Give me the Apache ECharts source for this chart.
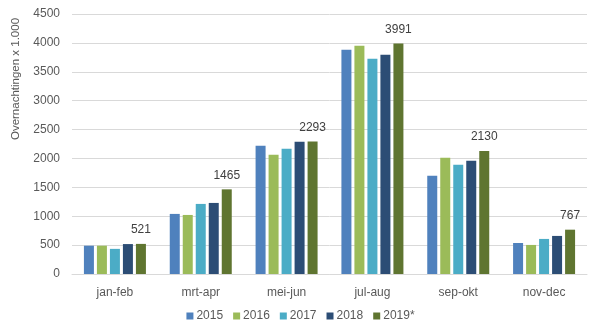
<!DOCTYPE html>
<html>
<head>
<meta charset="utf-8">
<script src="https://cdn.jsdelivr.net/npm/echarts@6/dist/echarts.min.js"></script>
<style>html,body{margin:0;padding:0;background:#fff}#c{width:601px;height:336px}</style>
</head>
<body>
<div id="c"></div>
<script>
const categories = ['jan-feb', 'mrt-apr', 'mei-jun', 'jul-aug', 'sep-okt', 'nov-dec'];
const seriesNames = ['2015', '2016', '2017', '2018', '2019*'];
const v2015 = [490, 1040, 2220, 3880, 1700, 537];
const v2016 = [490, 1022, 2062, 3951, 2010, 503];
const v2017 = [435, 1213, 2166, 3726, 1889, 607];
const v2018 = [518, 1230, 2288, 3795, 1958, 659];
const v2019 = [521, 1465, 2293, 3991, 2130, 767];
const yTicks = [0, 500, 1000, 1500, 2000, 2500, 3000, 3500, 4000, 4500];
const yTitle = 'Overnachtingen x 1.000';

const colors = ['#4F81BD', '#9BBB59', '#4BACC6', '#2C4D75', '#5F7530'];
const values = [v2015, v2016, v2017, v2018, v2019];
const font = 'Liberation Sans';

const chart = echarts.init(document.getElementById('c'), null, {renderer: 'canvas'});
chart.setOption({
  animation: false,
  color: colors,
  textStyle: {fontFamily: font},
  grid: {left: 72, right: 14, top: 14, bottom: 62, containLabel: false},
  legend: {
    bottom: 9, left: 'center',
    itemWidth: 7, itemHeight: 7, itemGap: 10,
    icon: 'rect',
    textStyle: {color: '#595959', fontSize: 12, fontFamily: font, padding: [0, 0, 0, -2]},
    data: seriesNames
  },
  xAxis: {
    type: 'category', data: categories,
    axisLine: {lineStyle: {color: '#D9D9D9'}},
    axisTick: {show: false},
    axisLabel: {color: '#595959', fontSize: 12, margin: 13, fontFamily: font}
  },
  yAxis: {
    type: 'value', min: yTicks[0], max: yTicks[yTicks.length - 1], interval: 500,
    axisLine: {show: false}, axisTick: {show: false},
    splitLine: {lineStyle: {color: '#D9D9D9'}},
    axisLabel: {color: '#595959', fontSize: 12, margin: 12, fontFamily: font, formatter: v => String(v)}
  },
  graphic: [{
    type: 'text', x: 16, y: 79, rotation: Math.PI / 2,
    style: {text: yTitle, fill: '#595959', fontSize: 11.5, fontFamily: font, align: 'center', verticalAlign: 'middle'}
  }],
  series: seriesNames.map((n, i) => ({
    name: n, type: 'bar', data: values[i],
    barWidth: 10, barGap: '30%',
    label: i === 4 ? {show: true, position: 'top', distance: 8, color: '#404040', fontSize: 12, fontFamily: font} : {show: false}
  }))
});
</script>
</body>
</html>
